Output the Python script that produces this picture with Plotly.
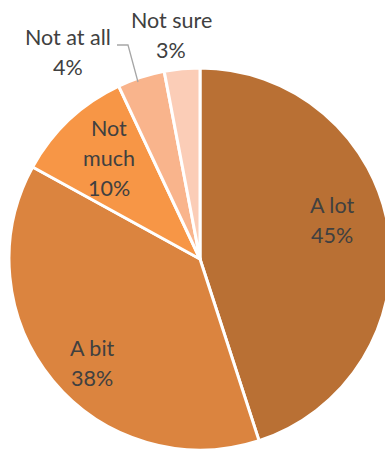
import plotly.graph_objects as go

labels = ["A lot", "A bit", "Not much", "Not at all", "Not sure"]
values = [45, 38, 10, 4, 3]
colors = ["#B97034", "#DB843F", "#F79646", "#F9B48C", "#FBCDB7"]

# label line splits for display
label_lines = [["A lot"], ["A bit"], ["Not", "much"], ["Not at all"], ["Not sure"]]
# label anchor (px), top line center
label_pos = [(332, 205), (92, 348), (109, 128), (68, 37), (171, 20)]

W, H = 391, 450
fig = go.Figure(go.Pie(
    labels=labels, values=values, sort=False, direction="clockwise", rotation=0,
    marker=dict(colors=colors, line=dict(color="white", width=3)),
    textinfo="none", hoverinfo="label+percent", showlegend=False,
    domain=dict(x=[0, 1], y=[0, 1]),
))

L, R, T, B = 9, 0, 68, 0
pw, ph = W - L - R, H - T - B

def px2paper(x, y):
    return (x - L) / pw, 1 - (y - T) / ph

annotations = []
total = sum(values)
for lines, val, (x, y) in zip(label_lines, values, label_pos):
    texts = lines + [f"{round(100 * val / total)}%"]
    for i, t in enumerate(texts):
        xp, yp = px2paper(x, y + 30 * i)
        annotations.append(dict(x=xp, y=yp, xref="paper", yref="paper", text=t,
                                showarrow=False, xanchor="center", yanchor="middle",
                                font=dict(family="Lato", size=21.5, color="#404040")))

# leader line for "Not at all"
p1 = px2paper(117, 45)
p2 = px2paper(128, 45)
p3 = px2paper(138, 82)
fig.add_shape(type="path", xref="paper", yref="paper",
              path=f"M {p1[0]},{p1[1]} L {p2[0]},{p2[1]} L {p3[0]},{p3[1]}",
              line=dict(color="#A6A6A6", width=1.3))

fig.update_layout(width=W, height=H, margin=dict(l=L, r=R, t=T, b=B),
                  paper_bgcolor="white", plot_bgcolor="white",
                  annotations=annotations)
fig.write_html("out.html", config={"displayModeBar": False},
               post_script="document.body.style.margin='0';document.body.style.overflow='hidden';"
                           "document.documentElement.style.overflow='hidden';")
